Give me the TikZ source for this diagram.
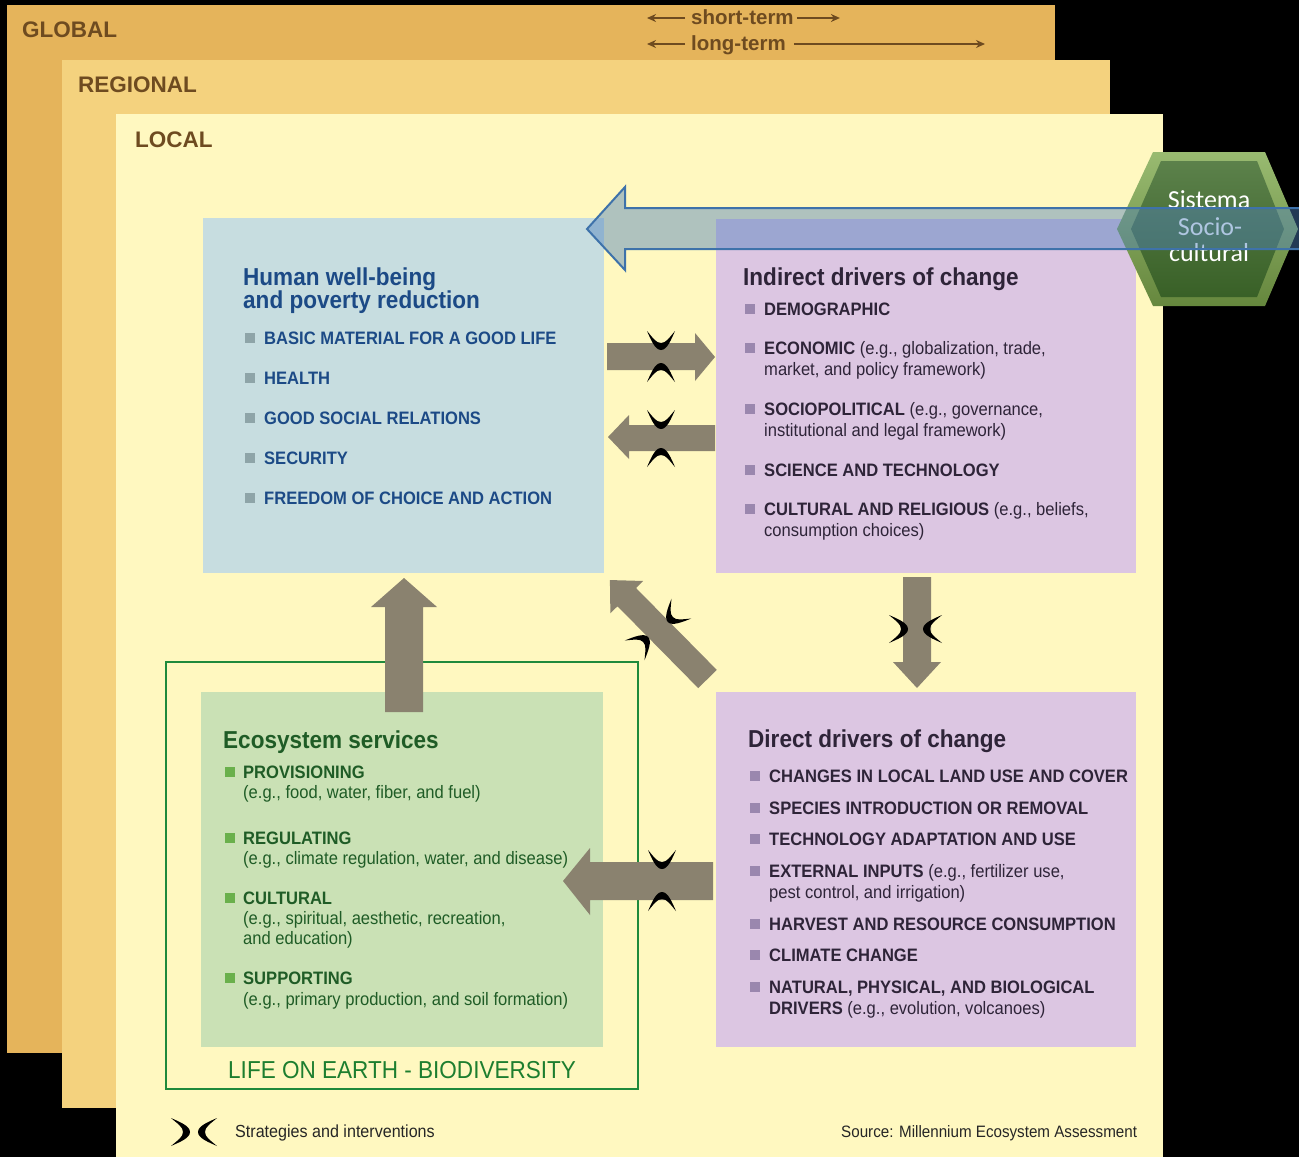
\documentclass[tikz,border=0pt]{standalone}
\usepackage{fontspec}
\setmainfont{Liberation Sans}
\newfontfamily\nar[FakeStretch=0.92]{Liberation Sans}
\newfontfamily\hexf{Carlito}
\usetikzlibrary{arrows.meta,calc}
\definecolor{glob}{HTML}{E5B45B}
\definecolor{regi}{HTML}{F4D27E}
\definecolor{loca}{HTML}{FFF8C0}
\definecolor{lvtx}{HTML}{6E4B20}
\definecolor{hwbox}{HTML}{C7DDE0}
\definecolor{lavbox}{HTML}{DCC6E2}
\definecolor{ecobox}{HTML}{CAE1B5}
\definecolor{frame}{HTML}{1F8A3C}
\definecolor{hbl}{HTML}{1C4A86}
\definecolor{ptx}{HTML}{2E2438}
\definecolor{gtx}{HTML}{1F5C26}
\definecolor{lifec}{HTML}{1D7E2F}
\definecolor{sqh}{HTML}{8EA4A8}
\definecolor{sqp}{HTML}{9A87AE}
\definecolor{sqg}{HTML}{6AB04C}
\definecolor{garr}{HTML}{8A826F}
\definecolor{barr}{HTML}{4F81BD}
\definecolor{bline}{HTML}{3E72AA}
\definecolor{hexo}{HTML}{7FA94D}
\definecolor{hexi}{HTML}{3F6B2B}
\newcommand\bul[3]{\fill[#1] (#2,#3-11) rectangle ++(10,10);}
\tikzset{
  lvl/.style={anchor=north west, inner sep=0pt, outer sep=0pt, draw=none},
  lvllab/.style={anchor=base west, inner sep=0pt, text=lvtx, font=\bfseries\fontsize{22.5}{25}\selectfont},
  term/.style={anchor=base west, inner sep=0pt, text=lvtx, font=\bfseries\fontsize{20.5}{23}\selectfont},
  tarr/.style={draw=lvtx, line width=2pt, -{Stealth[length=9pt,width=8pt]}},
  ttl/.style={anchor=base west, inner sep=0pt, font=\nar\bfseries\fontsize{24.5}{27}\selectfont},
  itm/.style={anchor=base west, inner sep=0pt, font=\nar\fontsize{18}{20}\selectfont},
  note/.style={anchor=base west, inner sep=0pt, text=black!85, font=\nar\fontsize{17.5}{20}\selectfont},
  hext/.style={anchor=base, inner sep=0pt, text=white, font=\hexf\fontsize{26}{28}\selectfont},
  garrow/.style={fill=garr, draw=none},
  cres/.pic={\fill[black] (-14,-9) .. controls (-10,0) and (-6,10) .. (0,10)
      .. controls (6,10) and (10,0) .. (14,-9)
      .. controls (8,-2) and (5,3) .. (0,3)
      .. controls (-5,3) and (-8,-2) .. (-14,-9) -- cycle;}
}
\begin{document}
\begin{tikzpicture}[x=1pt,y=-1pt]
\useasboundingbox (0,0) rectangle (1299,1157);
\fill[black] (0,0) rectangle (1299,1157);
% levels
\node[lvl, fill=glob, minimum width=1048, minimum height=1048] (global) at (7,5) {};
\node[lvl, fill=regi, minimum width=1048, minimum height=1048] (regional) at (62,60) {};
\node[lvl, fill=loca, minimum width=1047, minimum height=1043] (local) at (116,114) {};
\node[lvllab] (tglobal) at (22,37) {GLOBAL};
\node[lvllab] (tregional) at (78,92) {REGIONAL};
\node[lvllab] (tlocal) at (135,147) {LOCAL};
% term arrows
\node[term] (st) at (691,24) {short-term};
\node[term] (lt) at (691,50) {long-term};
\draw[tarr] ($(st.base west)+(-6,-6)$) -- +(-38,0);
\draw[tarr] ($(st.base east)+(3,-6)$) -- +(43,0);
\draw[tarr] ($(lt.base west)+(-6,-6)$) -- +(-38,0);
\draw[tarr] ($(lt.base east)+(8,-6)$) -- (985,44);
% boxes
\node[lvl, fill=hwbox, minimum width=401, minimum height=355] (hw) at (203,218) {};
\node[lvl, fill=lavbox, minimum width=420, minimum height=354] (ind) at (716,219) {};
\node[lvl, fill=ecobox, minimum width=402, minimum height=355] (eco) at (201,692) {};
\node[lvl, fill=lavbox, minimum width=420, minimum height=355] (dir) at (716,692) {};
\node[lvl, draw=frame, line width=2.5pt, minimum width=472, minimum height=427] (lifeframe) at (166,662) {};
% gray block arrows
\fill[garrow] (607,343) -- (695,343) -- (695,333) -- (715,357) -- (695,381) -- (695,370) -- (607,370) -- cycle;
\fill[garrow] (715,425) -- (629,425) -- (629,415) -- (608,437) -- (629,459) -- (629,451) -- (715,451) -- cycle;
\fill[garrow] (385,712) -- (385,607) -- (371,607) -- (404,578) -- (437,607) -- (423,607) -- (423,712) -- cycle;
\fill[garrow] (903,577) -- (903,662) -- (893,662) -- (917,688) -- (941,662) -- (931,662) -- (931,577) -- cycle;
\fill[garrow] (713,862) -- (590,862) -- (590,848) -- (563,881) -- (590,915) -- (590,900) -- (713,900) -- cycle;
\begin{scope}[shift={(707.5,679)}, rotate=134.6]
\fill[garrow] (0,-13) -- (115,-13) -- (115,-23) -- (139,0) -- (115,23) -- (115,13) -- (0,13) -- cycle;
\end{scope}
% strategies and interventions symbols
\pic at (661,340) {cres};
\pic[rotate=180] at (661,373) {cres};
\pic at (661,419) {cres};
\pic[rotate=180] at (661,458) {cres};
\pic at (662,859) {cres};
\pic[rotate=180] at (662,902) {cres};
\pic[rotate=90] at (898,629) {cres};
\pic[rotate=-90] at (933,629) {cres};
\pic[rotate=-45] at (675,615) {cres};
\pic[rotate=135] at (641,644) {cres};
\pic[rotate=90] at (180,1132) {cres};
\pic[rotate=-90] at (208,1132) {cres};
% human well-being
\node[ttl, text=hbl] (hw1) at (243,285) {Human well-being};
\node[ttl, text=hbl] (hw2) at (243,308) {and poverty reduction};
\bul{sqh}{245}{344}\bul{sqh}{245}{384}\bul{sqh}{245}{424}\bul{sqh}{245}{464}\bul{sqh}{245}{504}
\node[itm, text=hbl] (hwa) at (264,344) {\bfseries BASIC MATERIAL FOR A GOOD LIFE};
\node[itm, text=hbl] (hwb) at (264,384) {\bfseries HEALTH};
\node[itm, text=hbl] (hwc) at (264,424) {\bfseries GOOD SOCIAL RELATIONS};
\node[itm, text=hbl] (hwd) at (264,464) {\bfseries SECURITY};
\node[itm, text=hbl] (hwe) at (264,504) {\bfseries FREEDOM OF CHOICE AND ACTION};
% indirect drivers
\node[ttl, text=ptx] (ind0) at (743,285) {Indirect drivers of change};
\bul{sqp}{745}{315}\bul{sqp}{745}{354}\bul{sqp}{745}{415}\bul{sqp}{745}{476}\bul{sqp}{745}{515}
\node[itm, text=ptx] (inda) at (764,315) {\bfseries DEMOGRAPHIC};
\node[itm, text=ptx] (indb) at (764,354) {{\bfseries ECONOMIC} (e.g., globalization, trade,};
\node[itm, text=ptx] (indb2) at (764,375) {market, and policy framework)};
\node[itm, text=ptx] (indc) at (764,415) {{\bfseries SOCIOPOLITICAL} (e.g., governance,};
\node[itm, text=ptx] (indc2) at (764,436) {institutional and legal framework)};
\node[itm, text=ptx] (indd) at (764,476) {\bfseries SCIENCE AND TECHNOLOGY};
\node[itm, text=ptx] (inde) at (764,515) {{\bfseries CULTURAL AND RELIGIOUS} (e.g., beliefs,};
\node[itm, text=ptx] (inde2) at (764,536) {consumption choices)};
% ecosystem services
\node[ttl, text=gtx] (eco0) at (223,748) {Ecosystem services};
\bul{sqg}{225}{778}\bul{sqg}{225}{844}\bul{sqg}{225}{904}\bul{sqg}{225}{984}
\node[itm, text=gtx] (ecoa) at (243,778) {\bfseries PROVISIONING};
\node[itm, text=gtx] (ecoa2) at (243,798) {(e.g., food, water, fiber, and fuel)};
\node[itm, text=gtx] (ecob) at (243,844) {\bfseries REGULATING};
\node[itm, text=gtx] (ecob2) at (243,864) {(e.g., climate regulation, water, and disease)};
\node[itm, text=gtx] (ecoc) at (243,904) {\bfseries CULTURAL};
\node[itm, text=gtx] (ecoc2) at (243,924) {(e.g., spiritual, aesthetic, recreation,};
\node[itm, text=gtx] (ecoc3) at (243,944) {and education)};
\node[itm, text=gtx] (ecod) at (243,984) {\bfseries SUPPORTING};
\node[itm, text=gtx] (ecod2) at (243,1005) {(e.g., primary production, and soil formation)};
\node[anchor=base west, inner sep=0pt, text=lifec, font=\nar\fontsize{24.5}{27}\selectfont] (life) at (228,1078) {LIFE ON EARTH - BIODIVERSITY};
% direct drivers
\node[ttl, text=ptx] (dir0) at (748,747) {Direct drivers of change};
\bul{sqp}{750}{782}\bul{sqp}{750}{814}\bul{sqp}{750}{845}\bul{sqp}{750}{877}\bul{sqp}{750}{930}\bul{sqp}{750}{961}\bul{sqp}{750}{993}
\node[itm, text=ptx] (dira) at (769,782) {\bfseries CHANGES IN LOCAL LAND USE AND COVER};
\node[itm, text=ptx] (dirb) at (769,814) {\bfseries SPECIES INTRODUCTION OR REMOVAL};
\node[itm, text=ptx] (dirc) at (769,845) {\bfseries TECHNOLOGY ADAPTATION AND USE};
\node[itm, text=ptx] (dird) at (769,877) {{\bfseries EXTERNAL INPUTS} (e.g., fertilizer use,};
\node[itm, text=ptx] (dird2) at (769,898) {pest control, and irrigation)};
\node[itm, text=ptx] (dire) at (769,930) {\bfseries HARVEST AND RESOURCE CONSUMPTION};
\node[itm, text=ptx] (dirf) at (769,961) {\bfseries CLIMATE CHANGE};
\node[itm, text=ptx] (dirg) at (769,993) {\bfseries NATURAL, PHYSICAL, AND BIOLOGICAL};
\node[itm, text=ptx] (dirg2) at (769,1014) {{\bfseries DRIVERS} (e.g., evolution, volcanoes)};
% legend
\node[note] (leg) at (235,1137) {Strategies and interventions};
\node[note, font=\nar\fontsize{16.5}{19}\selectfont] (src) at (841,1137) {Source: Millennium Ecosystem Assessment};
% hexagon
\path[top color=hexo!80!white, bottom color=hexo!80!black] (1117,229) -- (1153,152) -- (1265,152) -- (1298,229) -- (1265,306) -- (1153,306) -- cycle;
\path[top color=hexi!85!white, bottom color=hexi!90!black] (1131,229) -- (1161,161) -- (1257,161) -- (1284,229) -- (1257,297) -- (1161,297) -- cycle;
\node[hext] (hx1) at (1209,208) {Sistema};
\node[hext] (hx2) at (1210,235) {Socio-};
\node[hext] (hx3) at (1209,261) {cultural};
% big blue arrow
\draw[draw=bline, line width=2pt, fill=barr, fill opacity=0.45, line join=miter] (1310,208) -- (625,208) -- (625,187) -- (587,229) -- (625,270) -- (625,249) -- (1310,249);
\end{tikzpicture}
\end{document}
